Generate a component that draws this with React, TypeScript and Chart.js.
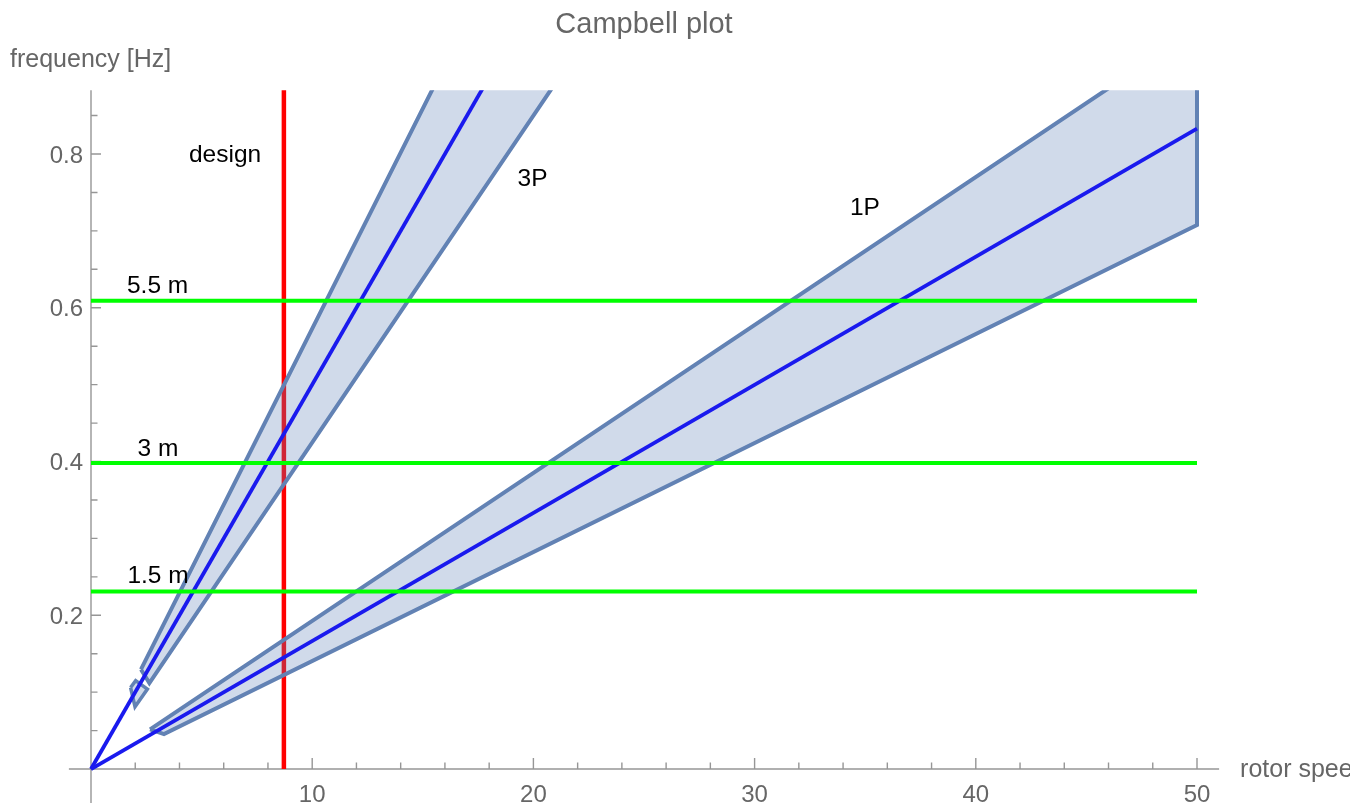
import React, { useEffect, useRef } from "react";
import { Chart, registerables } from "chart.js";

Chart.register(...registerables);

// ---- data (rotor speed [rpm] vs frequency [Hz]) ----
const rpmRange = [-1, 51];
const freqRange = [-0.0442, 0.883];

const line1P = [
  { x: 0, y: 0 },
  { x: 50, y: 0.833 },
];
const line3P = [
  { x: 0, y: 0 },
  { x: 22, y: 1.1 },
];
const band1P = [
  { x: 2.67, y: 0.0516 },
  { x: 50, y: 0.9625 },
  { x: 50, y: 0.7077 },
  { x: 3.3, y: 0.0455 },
  { x: 2.67, y: 0.0516 },
];
const band3P = [
  { x: 2.26, y: 0.1295 },
  { x: 22, y: 1.26 },
  { x: 22, y: 0.935 },
  { x: 2.64, y: 0.1118 },
  { x: 2.26, y: 0.1295 },
];
const band3PStub = [
  { x: 1.79, y: 0.106 },
  { x: 2.02, y: 0.115 },
  { x: 2.55, y: 0.104 },
  { x: 1.99, y: 0.081 },
  { x: 1.79, y: 0.106 },
];
const waveLevels = [0.231, 0.398, 0.609];
const waveNames = ["1.5 m", "3 m", "5.5 m"];
const waveSpan = [0, 50];
const designSpeed = 8.72;

const xMajorTicks = [10, 20, 30, 40, 50];
const xMinorTicks = [2, 4, 6, 8, 12, 14, 16, 18, 22, 24, 26, 28, 32, 34, 36, 38, 42, 44, 46, 48];
const yMajorTicks = [0.2, 0.4, 0.6, 0.8];
const yMajorLabels = ["0.2", "0.4", "0.6", "0.8"];
const yMinorTicks = [0.05, 0.1, 0.15, 0.25, 0.3, 0.35, 0.45, 0.5, 0.55, 0.65, 0.7, 0.75, 0.85];

const noteTexts = ["design", "3P", "1P"];
const noteAnchors = [
  { x: 6.06, y: 0.7896 },
  { x: 19.96, y: 0.7584 },
  { x: 34.99, y: 0.7207 },
];
const waveNameAnchors = [
  { x: 3.03, y: 0.2416 },
  { x: 3.03, y: 0.4075 },
  { x: 3.01, y: 0.619 },
];

const titleText = "Campbell plot";
const yAxisTitle = "frequency [Hz]";
const xAxisTitle = "rotor speed [rpm]";

const FONT = '"Liberation Sans", Arial, Helvetica, sans-serif';

const mmaPlugin = {
  id: "mmaAxes",
  beforeDatasetsDraw(chart: any) {
    const ctx = chart.ctx;
    const xs = chart.scales.x;
    const ys = chart.scales.y;
    const area = chart.chartArea;
    const x0 = xs.getPixelForValue(0);
    const y0 = ys.getPixelForValue(0);
    ctx.save();
    ctx.strokeStyle = "#969696";
    ctx.lineWidth = 1.4;
    ctx.beginPath();
    ctx.moveTo(area.left, y0);
    ctx.lineTo(area.right, y0);
    ctx.moveTo(x0, area.top);
    ctx.lineTo(x0, area.bottom);
    xMajorTicks.forEach((v) => {
      const p = xs.getPixelForValue(v);
      ctx.moveTo(p, y0);
      ctx.lineTo(p, y0 - 11);
    });
    xMinorTicks.forEach((v) => {
      const p = xs.getPixelForValue(v);
      ctx.moveTo(p, y0);
      ctx.lineTo(p, y0 - 6.5);
    });
    yMajorTicks.forEach((v) => {
      const p = ys.getPixelForValue(v);
      ctx.moveTo(x0, p);
      ctx.lineTo(x0 + 10, p);
    });
    yMinorTicks.forEach((v) => {
      const p = ys.getPixelForValue(v);
      ctx.moveTo(x0, p);
      ctx.lineTo(x0 + 6.5, p);
    });
    ctx.stroke();
    ctx.restore();
  },
  afterDatasetsDraw(chart: any) {
    const ctx = chart.ctx;
    const xs = chart.scales.x;
    const ys = chart.scales.y;
    const area = chart.chartArea;
    const x0 = xs.getPixelForValue(0);
    const y0 = ys.getPixelForValue(0);
    ctx.save();
    ctx.textBaseline = "alphabetic";
    // tick labels
    ctx.fillStyle = "#666666";
    ctx.font = `24px ${FONT}`;
    ctx.textAlign = "center";
    xMajorTicks.forEach((v) => {
      ctx.fillText(String(v), xs.getPixelForValue(v), y0 + 33);
    });
    ctx.textAlign = "right";
    yMajorTicks.forEach((v, i) => {
      ctx.fillText(yMajorLabels[i], x0 - 8, ys.getPixelForValue(v) + 8.5);
    });
    // axis titles
    ctx.font = `25px ${FONT}`;
    ctx.textAlign = "left";
    ctx.fillText(yAxisTitle, 10, 67);
    ctx.fillText(xAxisTitle, area.right + 21, y0 + 8);
    // title
    ctx.font = `29px ${FONT}`;
    ctx.textAlign = "center";
    ctx.fillText(titleText, (area.left + area.right) / 2, 33);
    // annotations
    ctx.fillStyle = "#000000";
    ctx.font = `24.5px ${FONT}`;
    noteTexts.forEach((t, i) => {
      ctx.fillText(t, xs.getPixelForValue(noteAnchors[i].x), ys.getPixelForValue(noteAnchors[i].y));
    });
    waveNames.forEach((t, i) => {
      ctx.fillText(t, xs.getPixelForValue(waveNameAnchors[i].x), ys.getPixelForValue(waveNameAnchors[i].y));
    });
    ctx.restore();
  },
};

export default function App() {
  const canvasRef = useRef<HTMLCanvasElement | null>(null);

  useEffect(() => {
    const canvas = canvasRef.current;
    if (!canvas) return;
    const bandFill = "rgba(94,129,181,0.29)";
    const bandEdge = "rgb(98,130,180)";
    const common = { showLine: true, pointRadius: 0, pointHoverRadius: 0, tension: 0 };
    const datasets: any[] = [
      {
        ...common,
        label: "design",
        data: [
          { x: designSpeed, y: 0 },
          { x: designSpeed, y: 2 },
        ],
        borderColor: "#ff0000",
        borderWidth: 4.5,
        fill: false,
        order: 10,
      },
      {
        ...common,
        label: "3P band",
        data: band3P,
        borderColor: bandEdge,
        backgroundColor: bandFill,
        borderWidth: 4,
        borderJoinStyle: "miter",
        fill: "shape",
        order: 8,
      },
      {
        ...common,
        label: "3P stub",
        data: band3PStub,
        borderColor: bandEdge,
        backgroundColor: bandFill,
        borderWidth: 3.5,
        fill: "shape",
        order: 8,
      },
      {
        ...common,
        label: "1P band",
        data: band1P,
        borderColor: bandEdge,
        backgroundColor: bandFill,
        borderWidth: 4,
        borderJoinStyle: "miter",
        fill: "shape",
        order: 7,
      },
      {
        ...common,
        label: "3P",
        data: line3P,
        borderColor: "#1a1aee",
        borderWidth: 3.8,
        fill: false,
        order: 5,
      },
      {
        ...common,
        label: "1P",
        data: line1P,
        borderColor: "#1a1aee",
        borderWidth: 3.8,
        fill: false,
        order: 5,
      },
      ...waveLevels.map((lv, i) => ({
        ...common,
        label: waveNames[i],
        data: [
          { x: waveSpan[0], y: lv },
          { x: waveSpan[1], y: lv },
        ],
        borderColor: "#00ff00",
        borderWidth: 4,
        fill: false,
        order: 1,
      })),
    ];

    const chart = new Chart(canvas, {
      type: "scatter",
      data: { datasets },
      options: {
        responsive: false,
        animation: false,
        events: [],
        layout: {
          padding: { left: 68.88, right: 130.88, top: 90.2, bottom: 0 },
        },
        plugins: {
          legend: { display: false },
          tooltip: { enabled: false },
          title: { display: false },
        },
        scales: {
          x: { type: "linear", min: rpmRange[0], max: rpmRange[1], display: false },
          y: { type: "linear", min: freqRange[0], max: freqRange[1], display: false },
        },
      },
      plugins: [mmaPlugin],
    } as any);
    return () => chart.destroy();
  }, []);

  return (
    <div style={{ position: "absolute", left: 0, top: 0, width: 1350, height: 803, background: "#fff" }}>
      <canvas ref={canvasRef} width={1350} height={803} style={{ display: "block" }} />
    </div>
  );
}
